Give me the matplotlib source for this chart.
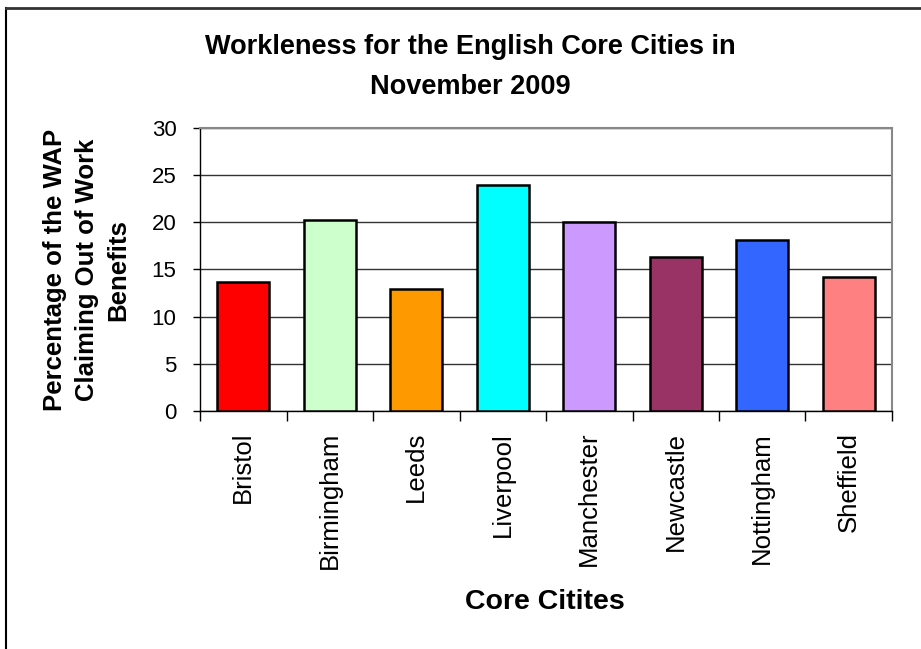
import matplotlib.pyplot as plt
from matplotlib.lines import Line2D

ciudades = ["Bristol", "Birmingham", "Leeds", "Liverpool",
            "Manchester", "Newcastle", "Nottingham", "Sheffield"]
porcentajes = [13.7, 20.2, 12.9, 24.0, 20.0, 16.3, 18.1, 14.2]
colores = ["#FF0000", "#CCFFCC", "#FF9900", "#00FFFF",
           "#CC99FF", "#993366", "#3366FF", "#FF8080"]

plt.rcParams["font.family"] = ["Liberation Sans", "DejaVu Sans"]

fig = plt.figure(figsize=(9.21, 6.49), dpi=100)
fig.patch.set_facecolor("white")
ax = fig.add_axes([0.2172, 0.3667, 0.7513, 0.4361])

posiciones = range(len(ciudades))
ax.bar(posiciones, porcentajes, width=0.6, color=colores,
       edgecolor="black", linewidth=1.8, zorder=3)

ax.set_xlim(-0.5, len(ciudades) - 0.5)
ax.set_ylim(0, 30)
ax.set_yticks(range(0, 31, 5))
ax.yaxis.grid(True, color="#333333", linewidth=1.0, zorder=0)

# ticks del eje x entre categorias, etiquetas centradas bajo cada barra
ax.set_xticks([p - 0.5 for p in range(len(ciudades) + 1)])
ax.set_xticks(list(posiciones), minor=True)
ax.set_xticklabels([])
ax.set_xticklabels(ciudades, minor=True, rotation=90, fontsize=18.5, va="top")
ax.tick_params(axis="x", which="major", direction="out", length=7, width=1, color="black")
ax.tick_params(axis="x", which="minor", length=0, pad=15)
ax.tick_params(axis="y", direction="out", length=5, width=1, labelsize=16, pad=12)

for lado in ["top", "right"]:
    ax.spines[lado].set_color("#888888")
    ax.spines[lado].set_linewidth(1.5)
for lado in ["left", "bottom"]:
    ax.spines[lado].set_color("black")
    ax.spines[lado].set_linewidth(1.0)

fig.text(545 / 921, 1 - 602 / 649, "Core Citites",
         ha="center", va="center", fontsize=20.5, fontweight="bold")
fig.text(87 / 921, 1 - 270 / 649,
         "Percentage of the WAP\nClaiming Out of Work\nBenefits",
         ha="center", va="center", rotation=90, fontsize=18.5,
         fontweight="bold", linespacing=1.4)

fig.text(470 / 921, 1 - 67 / 649,
         "Workleness for the English Core Cities in\nNovember 2009",
         ha="center", va="center", fontsize=19.5, fontweight="bold", linespacing=1.65)

# marco exterior: solo borde superior e izquierdo
fig.add_artist(Line2D([6 / 921, 6 / 921], [0, 1 - 8 / 649],
                      transform=fig.transFigure, color="black", linewidth=1.5))
fig.add_artist(Line2D([6 / 921, 1], [1 - 8 / 649, 1 - 8 / 649],
                      transform=fig.transFigure, color="#333333", linewidth=2))

fig.savefig("out.png", dpi=100)
plt.close(fig)
